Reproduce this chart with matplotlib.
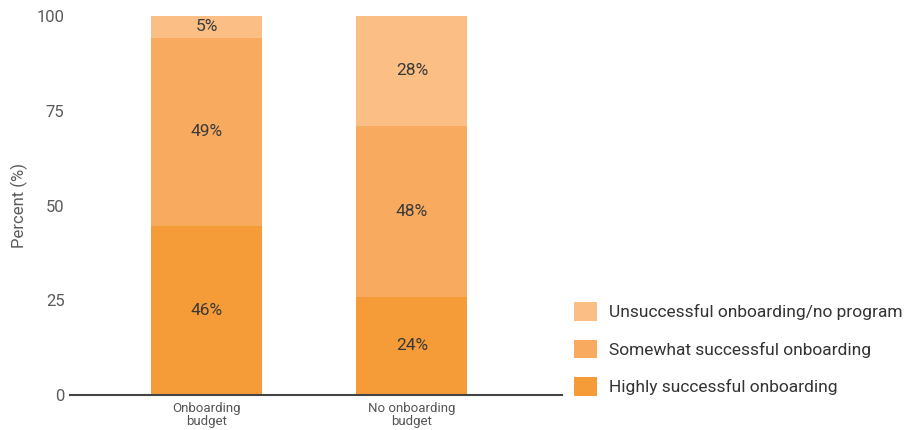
import matplotlib
matplotlib.use("Agg")
import matplotlib.pyplot as plt
from matplotlib.patches import Patch

plt.rcParams['font.family'] = ['Roboto', 'DejaVu Sans']

categories = ["Onboarding\nbudget", "No onboarding\nbudget"]
series_names = ["Highly successful onboarding",
                "Somewhat successful onboarding",
                "Unsuccessful onboarding/no program"]
# segment heights as drawn (percent)
highly = [44.6, 25.9]
somewhat = [49.7, 45.2]
unsuccessful = [5.7, 28.9]
# printed labels
highly_lbl = ["46%", "24%"]
somewhat_lbl = ["49%", "48%"]
unsuccessful_lbl = ["5%", "28%"]
yticks = [0, 25, 50, 75, 100]

colors = ["#F59B37", "#F8AA5F", "#FBBE85"]

W, H = 909, 430
fig = plt.figure(figsize=(W / 100, H / 100), dpi=100)
ax = fig.add_axes([70 / W, 1 - 395 / H, (562 - 70) / W, (395 - 16) / H])

x = list(range(len(categories)))
width = 0.54
series = [highly, somewhat, unsuccessful]
labels = [highly_lbl, somewhat_lbl, unsuccessful_lbl]
bottom = [0.0] * len(x)
for vals, lbls, c in zip(series, labels, colors):
    ax.bar(x, vals, width=width, bottom=bottom, color=c,
           edgecolor='none', zorder=2)
    for xi, v, b, t in zip(x, vals, bottom, lbls):
        ax.text(xi, b + v / 2, t, ha='center', va='center',
                fontsize=12.5, color='#3a3a3a', zorder=3)
    bottom = [b + v for b, v in zip(bottom, vals)]

ax.set_xlim(-0.664, 1.73)
ax.set_ylim(0, 100)
ax.set_yticks(yticks)
ax.set_yticklabels([str(t) for t in yticks], fontsize=12, color='#5a5a5a')
ax.set_xticks(x)
ax.set_xticklabels(categories, fontsize=9.5, color='#555555', linespacing=1.0)
ax.tick_params(axis='both', length=0)
ax.tick_params(axis='y', pad=4)
ax.tick_params(axis='x', pad=5)
ax.set_ylabel("Percent (%)", fontsize=12, color='#5a5a5a', labelpad=6)
for s in ['top', 'right', 'left']:
    ax.spines[s].set_visible(False)
ax.spines['bottom'].set_color('#444444')
ax.spines['bottom'].set_linewidth(1.5)
ax.spines['bottom'].set_zorder(4)

handles = [Patch(facecolor=c, edgecolor='none') for c in colors]
handles = handles[::-1]
names = series_names[::-1]
leg = fig.legend(handles, names, loc='upper left',
                 bbox_to_anchor=(574 / W, 1 - 302 / H),
                 frameon=False, fontsize=12.5, handlelength=1.35,
                 handleheight=1.3, handletextpad=0.65, labelspacing=1.07,
                 borderaxespad=0, borderpad=0)
for t in leg.get_texts():
    t.set_color('#333333')

fig.savefig("out.png", dpi=100)
